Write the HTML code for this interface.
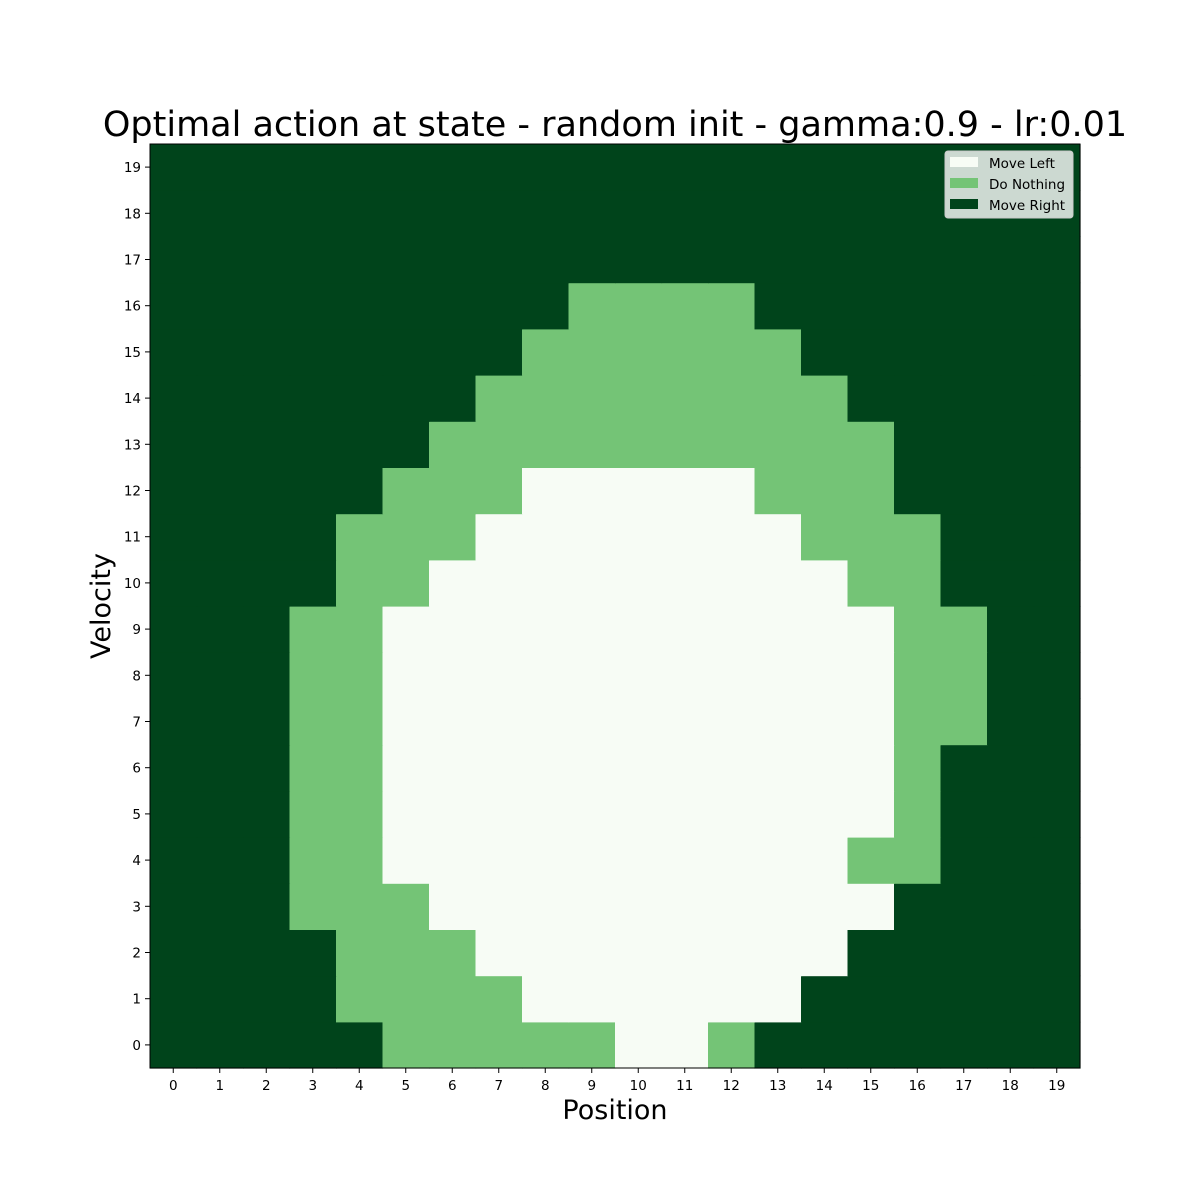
<!DOCTYPE html>
<html><head><meta charset="utf-8"><style>
html,body{margin:0;padding:0;background:#fff;width:1200px;height:1200px;overflow:hidden;}
svg{display:block;}
svg text{font-family:"DejaVu Sans","Liberation Sans",sans-serif;}
</style></head><body>
<svg id="chart" width="1200" height="1200" xmlns="http://www.w3.org/2000/svg">
<text x="615" y="136" font-size="35" text-anchor="middle">Optimal action at state - random init - gamma:0.9 - lr:0.01</text>
<g id="cells"></g>
<rect x="150" y="144" width="930" height="924" fill="none" stroke="#000" stroke-width="1"/>
<g id="xticks"></g>
<g id="yticks"></g>
<text x="615" y="1119" font-size="27" text-anchor="middle">Position</text>
<text transform="translate(110,606) rotate(-90)" font-size="27" text-anchor="middle">Velocity</text>
<g>
<rect x="945" y="151" width="128" height="67" rx="3" fill="#fff" fill-opacity="0.8" stroke="#ccc"/>
<rect x="950" y="157" width="28" height="10" fill="#f7fcf5"/>
<text x="989" y="168" font-size="13.5">Move Left</text>
<rect x="950" y="178" width="28" height="10" fill="#74c476"/>
<text x="989" y="189" font-size="13.5">Do Nothing</text>
<rect x="950" y="199" width="28" height="10" fill="#00441b"/>
<text x="989" y="210" font-size="13.5">Move Right</text>
</g>
</svg>
<script>
const positions = [0,1,2,3,4,5,6,7,8,9,10,11,12,13,14,15,16,17,18,19];
const velocities = [0,1,2,3,4,5,6,7,8,9,10,11,12,13,14,15,16,17,18,19];
const actionColors = ["#f7fcf5","#74c476","#00441b"];
// grid[v][p]: 0=Move Left, 1=Do Nothing, 2=Move Right
const grid = [
[2,2,2,2,2,1,1,1,1,1,0,0,1,2,2,2,2,2,2,2],
[2,2,2,2,1,1,1,1,0,0,0,0,0,0,2,2,2,2,2,2],
[2,2,2,2,1,1,1,0,0,0,0,0,0,0,0,2,2,2,2,2],
[2,2,2,1,1,1,0,0,0,0,0,0,0,0,0,0,2,2,2,2],
[2,2,2,1,1,0,0,0,0,0,0,0,0,0,0,1,1,2,2,2],
[2,2,2,1,1,0,0,0,0,0,0,0,0,0,0,0,1,2,2,2],
[2,2,2,1,1,0,0,0,0,0,0,0,0,0,0,0,1,2,2,2],
[2,2,2,1,1,0,0,0,0,0,0,0,0,0,0,0,1,1,2,2],
[2,2,2,1,1,0,0,0,0,0,0,0,0,0,0,0,1,1,2,2],
[2,2,2,1,1,0,0,0,0,0,0,0,0,0,0,0,1,1,2,2],
[2,2,2,2,1,1,0,0,0,0,0,0,0,0,0,1,1,2,2,2],
[2,2,2,2,1,1,1,0,0,0,0,0,0,0,1,1,1,2,2,2],
[2,2,2,2,2,1,1,1,0,0,0,0,0,1,1,1,2,2,2,2],
[2,2,2,2,2,2,1,1,1,1,1,1,1,1,1,1,2,2,2,2],
[2,2,2,2,2,2,2,1,1,1,1,1,1,1,1,2,2,2,2,2],
[2,2,2,2,2,2,2,2,1,1,1,1,1,1,2,2,2,2,2,2],
[2,2,2,2,2,2,2,2,2,1,1,1,1,2,2,2,2,2,2,2],
[2,2,2,2,2,2,2,2,2,2,2,2,2,2,2,2,2,2,2,2],
[2,2,2,2,2,2,2,2,2,2,2,2,2,2,2,2,2,2,2,2],
[2,2,2,2,2,2,2,2,2,2,2,2,2,2,2,2,2,2,2,2]
];
const NS="http://www.w3.org/2000/svg";
const X0=150,X1=1080,Y0=144,Y1=1068;
const cw=(X1-X0)/positions.length, ch=(Y1-Y0)/velocities.length;
const xs=p=>X0+p*cw;
const ys=v=>Y1-(v+1)*ch;
const cells=document.getElementById('cells');
velocities.forEach((v,vi)=>positions.forEach((p,pi)=>{
  const r=document.createElementNS(NS,'rect');
  r.setAttribute('x',xs(pi));r.setAttribute('y',ys(vi));
  r.setAttribute('width',cw+0.6);r.setAttribute('height',ch+0.6);
  r.setAttribute('fill',actionColors[grid[vi][pi]]);
  
  
  cells.appendChild(r);
}));
const xt=document.getElementById('xticks');
positions.forEach((p,i)=>{
  const cx=xs(i)+cw/2;
  const l=document.createElementNS(NS,'line');
  l.setAttribute('x1',cx);l.setAttribute('x2',cx);l.setAttribute('y1',Y1);l.setAttribute('y2',Y1+5);l.setAttribute('stroke','#000');
  
  
  xt.appendChild(l);
  const t=document.createElementNS(NS,'text');
  t.setAttribute('x',cx);t.setAttribute('y',Y1+22);t.setAttribute('font-size','13.5');t.setAttribute('text-anchor','middle');
  t.textContent=p;
  
  
  xt.appendChild(t);
});
const yt=document.getElementById('yticks');
velocities.forEach((v,i)=>{
  const cy=ys(i)+ch/2;
  const l=document.createElementNS(NS,'line');
  l.setAttribute('x1',X0-5);l.setAttribute('x2',X0);l.setAttribute('y1',cy);l.setAttribute('y2',cy);l.setAttribute('stroke','#000');
  
  
  yt.appendChild(l);
  const t=document.createElementNS(NS,'text');
  t.setAttribute('x',X0-9);t.setAttribute('y',cy+5);t.setAttribute('font-size','13.5');t.setAttribute('text-anchor','end');
  t.textContent=v;
  
  
  yt.appendChild(t);
});
</script>
</body></html>
